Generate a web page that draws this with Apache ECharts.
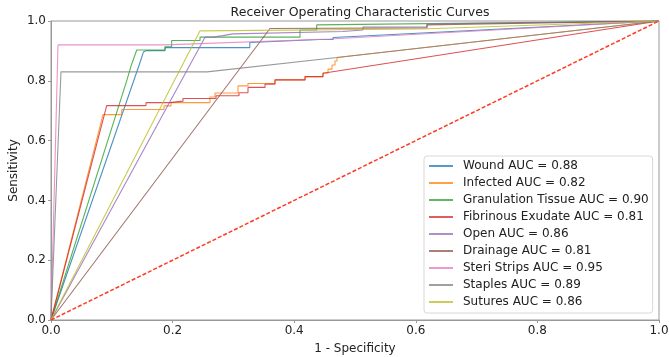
<!DOCTYPE html>
<html><head><meta charset="utf-8">
<script src="https://cdn.jsdelivr.net/npm/echarts@6/dist/echarts.min.js"></script>
<style>html,body{margin:0;padding:0;background:#fff}#c{width:669px;height:357px}</style>
</head><body><div id="c"></div>
<script>
var title = 'Receiver Operating Characteristic Curves';
var xName = '1 - Specificity';
var yName = 'Sensitivity';
var tickValues = [0, 0.2, 0.4, 0.6, 0.8, 1.0];

var seriesNames = ['Wound AUC = 0.88','Infected AUC = 0.82','Granulation Tissue AUC = 0.90','Fibrinous Exudate AUC = 0.81','Open AUC = 0.86','Drainage AUC = 0.81','Steri Strips AUC = 0.95','Staples AUC = 0.89','Sutures AUC = 0.86'];
var seriesColors = ['#1f77b4','#ff7f0e','#2ca02c','#d62728','#9467bd','#8c564b','#e377c2','#7f7f7f','#bcbd22'];

var wound = [[0,0],[0.145,0.853],[0.152,0.896],[0.157,0.901],[0.1875,0.901],[0.1875,0.911],[0.327,0.911],[0.327,0.928],[0.442,0.938],[0.464,0.938],[0.464,0.945],[1,1]];
var infected = [[0,0],[0.0855,0.687],[0.1163,0.687],[0.1163,0.704],[0.1859,0.704],[0.1859,0.716],[0.1974,0.716],[0.1974,0.727],[0.2615,0.727],[0.2615,0.746],[0.2697,0.746],[0.2697,0.759],[0.3076,0.759],[0.3076,0.783],[0.324,0.783],[0.324,0.791],[0.3684,0.791],[0.3684,0.803],[0.4178,0.803],[0.4178,0.814],[0.4474,0.814],[0.4474,0.826],[0.4556,0.826],[0.4556,0.839],[0.4622,0.839],[0.4622,0.853],[0.4671,0.853],[0.4671,0.866],[0.4704,0.866],[0.4704,0.878],[1,1]];
var granulation = [[0,0],[0.125,0.803],[0.1316,0.849],[0.141,0.903],[0.1875,0.903],[0.1875,0.914],[0.1985,0.914],[0.1985,0.935],[0.2451,0.935],[0.2451,0.946],[0.4095,0.946],[0.4095,0.970],[0.437,0.970],[0.437,0.987],[1,1]];
var fibrinous = [[0,0],[0.0916,0.717],[0.1563,0.717],[0.1563,0.727],[0.1957,0.727],[0.1957,0.732],[0.2171,0.732],[0.2171,0.741],[0.2714,0.741],[0.2714,0.750],[0.3092,0.750],[0.3092,0.760],[0.324,0.760],[0.324,0.778],[0.352,0.778],[0.352,0.789],[0.3684,0.789],[0.3684,0.803],[0.4178,0.803],[0.4178,0.814],[0.4474,0.814],[0.4474,0.825],[1,1]];
var open = [[0,0],[0.2533,0.946],[0.2664,0.946],[0.2664,0.951],[0.2829,0.951],[0.2829,0.957],[0.2993,0.957],[0.2993,0.962],[0.4803,0.965],[0.4803,0.970],[0.5132,0.970],[0.5132,0.980],[0.6184,0.980],[0.6184,0.990],[1,1]];
var drainage = [[0,0],[0.3602,0.975],[0.6184,0.977],[0.6184,0.987],[1,1]];
var steriStrips = [[0,0],[0.0115,0.920],[0.1875,0.920],[0.4589,0.940],[1,1]];
var staples = [[0,0],[0.0164,0.830],[0.2566,0.830],[0.4704,0.878],[1,1]];
var sutures = [[0,0],[0.2451,0.967],[0.6069,0.973],[1,1]];
var chance = [[0,0],[1,1]];

var allData = [wound, infected, granulation, fibrinous, open, drainage, steriStrips, staples, sutures];

var font = 'DejaVu Sans';
var series = allData.map(function(d, i){
  return {name: seriesNames[i], type:'line', data:d, showSymbol:false, symbol:'none',
    lineStyle:{width:1.1, color:seriesColors[i], opacity:0.8}, itemStyle:{color:seriesColors[i]}, z:2+i, silent:true};
});
series.push({name:'chance', type:'line', data:chance, showSymbol:false, symbol:'none',
  lineStyle:{width:1.5, color:'#ff3a20', type:[4,2]}, z:20, silent:true});

var chart = echarts.init(document.getElementById('c'), null, {renderer:'canvas'});
chart.setOption({
  animation:false,
  backgroundColor:'#fff',
  title:{text:title, left:355, top:1, textAlign:'center', textStyle:{fontFamily:font, fontSize:12.5, fontWeight:'normal', color:'#222'}},
  grid:{left:51, right:10, top:21, bottom:37, show:true, borderColor:'#999', borderWidth:1, containLabel:false, outerBoundsMode:'none'},
  legend:{data:seriesNames, orient:'vertical', left:424, top:156, icon:'rect', itemWidth:24, itemHeight:1.5, itemGap:3,
    padding:[3,4,4,5], backgroundColor:'rgba(255,255,255,0.85)', borderColor:'#d8d8d8', borderWidth:1, borderRadius:3,
    textStyle:{fontFamily:font, fontSize:12, color:'#222', lineHeight:14, padding:[0,0,0,5]}},
  xAxis:{type:'value', min:0, max:1, interval:0.2, name:xName, nameLocation:'middle', nameGap:23, nameMoveOverlap:false,
    nameTextStyle:{fontFamily:font, fontSize:12, color:'#222'},
    axisLine:{show:true, lineStyle:{color:'#999'}}, axisTick:{show:true, length:3, lineStyle:{color:'#999'}},
    splitLine:{show:false},
    axisLabel:{fontFamily:font, fontSize:12, color:'#222', margin:5, formatter:function(v){return v.toFixed(1);}}},
  yAxis:{type:'value', min:0, max:1, interval:0.2, name:yName, nameLocation:'middle', nameGap:31, nameMoveOverlap:false,
    nameTextStyle:{fontFamily:font, fontSize:12, color:'#222'},
    axisLine:{show:true, lineStyle:{color:'#999'}}, axisTick:{show:true, length:3, lineStyle:{color:'#999'}},
    splitLine:{show:false},
    axisLabel:{fontFamily:font, fontSize:12, color:'#222', margin:5, formatter:function(v){return v.toFixed(1);}}},
  series:series
});
</script></body></html>
